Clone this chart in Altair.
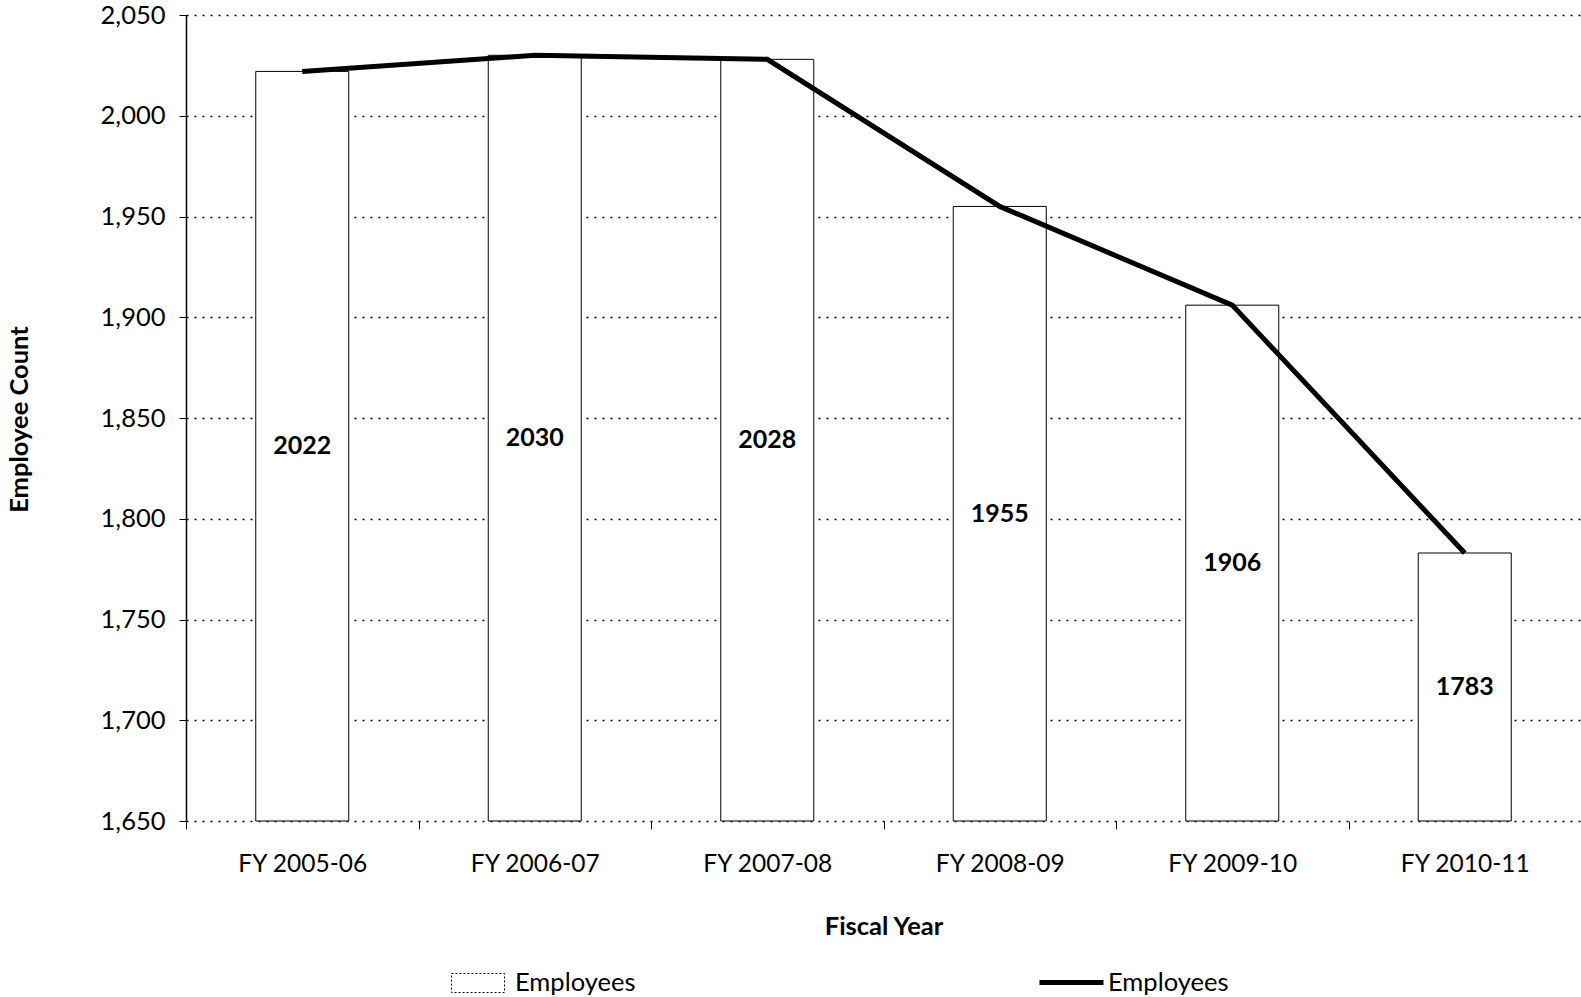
import altair as alt
import pandas as pd

# Fiscal-year headcount
years = ["FY 2005-06", "FY 2006-07", "FY 2007-08", "FY 2008-09", "FY 2009-10", "FY 2010-11"]
employees = [2022, 2030, 2028, 1955, 1906, 1783]
y_ticks = [1650, 1700, 1750, 1800, 1850, 1900, 1950, 2000, 2050]
y_floor = 1650

df = pd.DataFrame({
    "year": years,
    "count": employees,
    "bar_series": ["Employees"] * len(years),
    "line_series": ["Employees"] * len(years),
})

FONT = "Lato"

x_enc = alt.X(
    "year:N",
    sort=years,
    scale=alt.Scale(paddingInner=0, paddingOuter=0),
    axis=alt.Axis(
        title="Fiscal Year",
        titleFont=FONT, titleFontSize=25.5, titleFontWeight="bold", titleColor="black",
        titleY=105, titleBaseline="middle",
        labelFont=FONT, labelFontSize=24.5, labelColor="black", labelAngle=0,
        labelPadding=23,
        domain=False, ticks=True, tickBand="extent", tickSize=8, tickColor="black",
        grid=False,
    ),
)

y_scale = alt.Scale(domain=[1650, 2050], zero=False, nice=False)
y_axis = alt.Axis(
    title="Employee Count",
    titleFont=FONT, titleFontSize=25.5, titleFontWeight="bold", titleColor="black",
    titleX=-167, titleY=404, titleAngle=-90, titleAlign="center", titleBaseline="middle",
    values=y_ticks, format=",d",
    labelFont=FONT, labelFontSize=25.5, labelColor="black", labelPadding=14,
    tickSize=7, tickColor="black",
    domainColor="black", domainWidth=1.5,
    grid=True, gridColor="black", gridDash=[2, 6], gridWidth=1.5,
)

base = alt.Chart(df)

bars = base.mark_bar(
    width=alt.RelativeBandSize(0.4), stroke="black", strokeWidth=1
).encode(
    x=x_enc,
    y=alt.Y("count:Q", scale=y_scale, axis=y_axis),
    y2=alt.datum(y_floor),
    fill=alt.Fill(
        "bar_series:N",
        scale=alt.Scale(range=["white"]),
        legend=alt.Legend(
            title=None, orient="none", legendX=265, legendY=941,
            symbolType="M-1,-0.36H1V0.36H-1Z", symbolSize=2809,
            symbolStrokeColor="black", symbolStrokeWidth=1, symbolDash=[2, 2],
            labelFont=FONT, labelFontSize=25.5, labelColor="black", labelOffset=10,
            padding=0,
        ),
    ),
)

labels = base.transform_calculate(
    mid=f"(datum.count + {y_floor}) / 2"
).mark_text(
    font=FONT, fontSize=25, fontWeight="bold", color="black", baseline="middle"
).encode(
    x=alt.X("year:N", sort=years),
    y=alt.Y("mid:Q", scale=y_scale),
    text=alt.Text("count:Q", format="d"),
)

line = base.mark_line(strokeWidth=5).encode(
    x=alt.X("year:N", sort=years),
    y=alt.Y("count:Q", scale=y_scale),
    stroke=alt.Stroke(
        "line_series:N",
        scale=alt.Scale(range=["black"]),
        legend=alt.Legend(
            title=None, orient="none", legendX=851, legendY=933,
            symbolType="stroke", symbolSize=4096, symbolStrokeWidth=5,
            symbolStrokeColor="black",
            labelFont=FONT, labelFontSize=25.5, labelColor="black", labelOffset=2,
            padding=0,
        ),
    ),
)

chart = alt.layer(bars, labels, line).properties(
    width=1395,
    height=806,
    autosize=alt.AutoSizeParams(type="none"),
    padding={"left": 186, "top": 15, "right": 0, "bottom": 176},
    background="white",
).configure_view(stroke=None)

chart.save("out.html", embed_options={"renderer": "svg", "actions": False})
